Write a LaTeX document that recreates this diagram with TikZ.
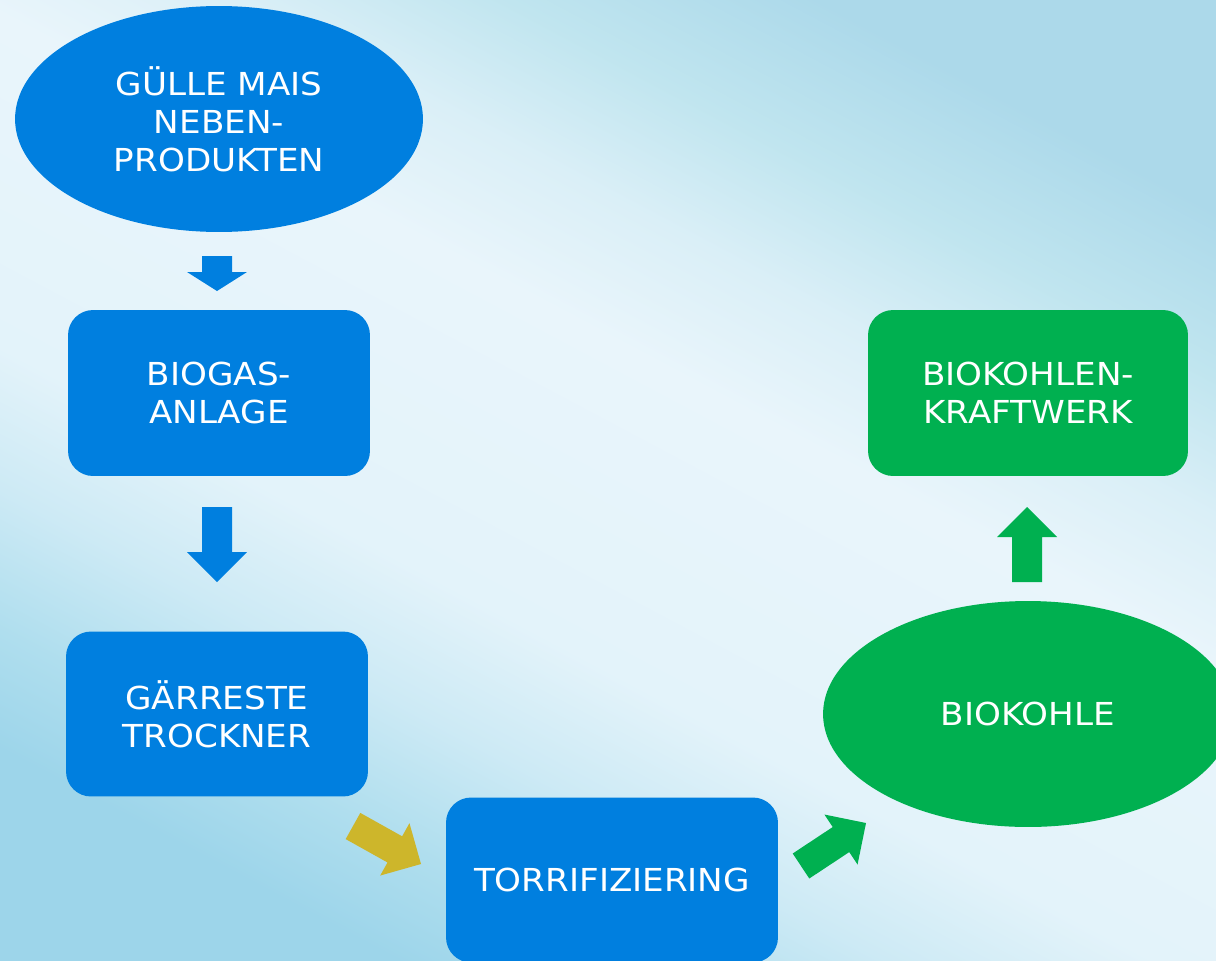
\documentclass[tikz,border=0pt]{standalone}
\usepackage{fontspec}
\setmainfont{DejaVu Sans}[FakeStretch=1.08]
\usetikzlibrary{calc}
\usetikzlibrary{positioning}
\usetikzlibrary{shapes.geometric}

\definecolor{flowblue}{RGB}{0,127,223}
\definecolor{flowgreen}{RGB}{0,176,80}
\definecolor{flowyellow}{RGB}{205,182,43}
\definecolor{wash1}{RGB}{157,213,234}
\definecolor{wash2}{RGB}{175,222,238}
\definecolor{wash3}{RGB}{205,234,245}
\definecolor{wash4}{RGB}{227,243,250}
\definecolor{wash5}{RGB}{233,245,251}
\definecolor{wash6}{RGB}{218,239,247}
\definecolor{wash7}{RGB}{192,229,239}
\definecolor{wash8}{RGB}{172,217,234}

\pgfdeclareverticalshading{wash}{100bp}{color(0bp)=(wash1); color(25bp)=(wash1);
  color(30bp)=(wash2); color(36bp)=(wash3); color(42bp)=(wash4); color(56bp)=(wash5);
  color(62bp)=(wash6); color(68bp)=(wash7); color(75bp)=(wash8); color(100bp)=(wash8)}

% block arrow from #1 (tail) to #2 (tip), head length #3, colour #4
\newcommand{\blockarrow}[4]{%
  \coordinate (#1-h) at ($(#2)!#3!(#1)$);
  \fill[#4] ($(#1)!0.3cm!90:(#2)$) -- ($(#1-h)!0.3cm!90:(#2)$)
    -- ($(#1-h)!0.6cm!90:(#2)$) -- (#2) -- ($(#1-h)!0.6cm!-90:(#2)$)
    -- ($(#1-h)!0.3cm!-90:(#2)$) -- ($(#1)!0.3cm!-90:(#2)$) -- cycle;
}

\begin{document}
\begin{tikzpicture}[x=0.02cm, y=-0.02cm,
    box/.style={rectangle, rounded corners=0.5cm, fill=#1, text=white,
      align=center, inner sep=0pt, font=\fontsize{18pt}{21.6pt}\selectfont},
    oval/.style={ellipse, fill=#1, text=white, align=center, inner sep=0pt,
      minimum width=8.16cm, minimum height=4.52cm,
      font=\fontsize{18pt}{21.6pt}\selectfont}]

    \useasboundingbox (0,0) rectangle (1216,960);
    \shade[shading=wash, shading angle=-28] (0,0) rectangle (1216,960);

    \begin{scope}
    \clip (0,0) rectangle (1216,960);

    \node[oval=flowblue] (guelle) at (219,119) {GÜLLE MAIS\\NEBEN-\\PRODUKTEN};
    \node[box=flowblue, minimum width=6.04cm, minimum height=3.32cm] (biogas) at (219,393) {BIOGAS-\\ANLAGE};
    \node[box=flowblue, minimum width=6.04cm, minimum height=3.3cm] (gaerreste) at (217,714) {GÄRRESTE\\TROCKNER};
    \node[box=flowblue, minimum width=6.64cm, minimum height=3.3cm] (torri) at (612,880) {TORRIFIZIERING};
    \node[oval=flowgreen, minimum width=8.2cm] (biokohle) at (1028,714) {BIOKOHLE};
    \node[box=flowgreen, minimum width=6.4cm, minimum height=3.32cm] (kraftwerk) at (1028,393) {BIOKOHLEN-\\KRAFTWERK};

    \coordinate (p1) at (217,256);
    \coordinate (q1) at (217,291);
    \coordinate (p2) at (217,507);
    \coordinate (q2) at (217,582);
    \coordinate (p3) at (353,826);
    \coordinate (q3) at (421,864);
    \coordinate (p4) at (801,866);
    \coordinate (q4) at (866,823);
    \coordinate (p5) at (1027,582);
    \coordinate (q5) at (1027,507);

    \blockarrow{p1}{q1}{0.38cm}{flowblue}
    \blockarrow{p2}{q2}{0.6cm}{flowblue}
    \blockarrow{p3}{q3}{0.6cm}{flowyellow}
    \blockarrow{p4}{q4}{0.6cm}{flowgreen}
    \blockarrow{p5}{q5}{0.6cm}{flowgreen}
    \end{scope}
  \end{tikzpicture}
\end{document}
